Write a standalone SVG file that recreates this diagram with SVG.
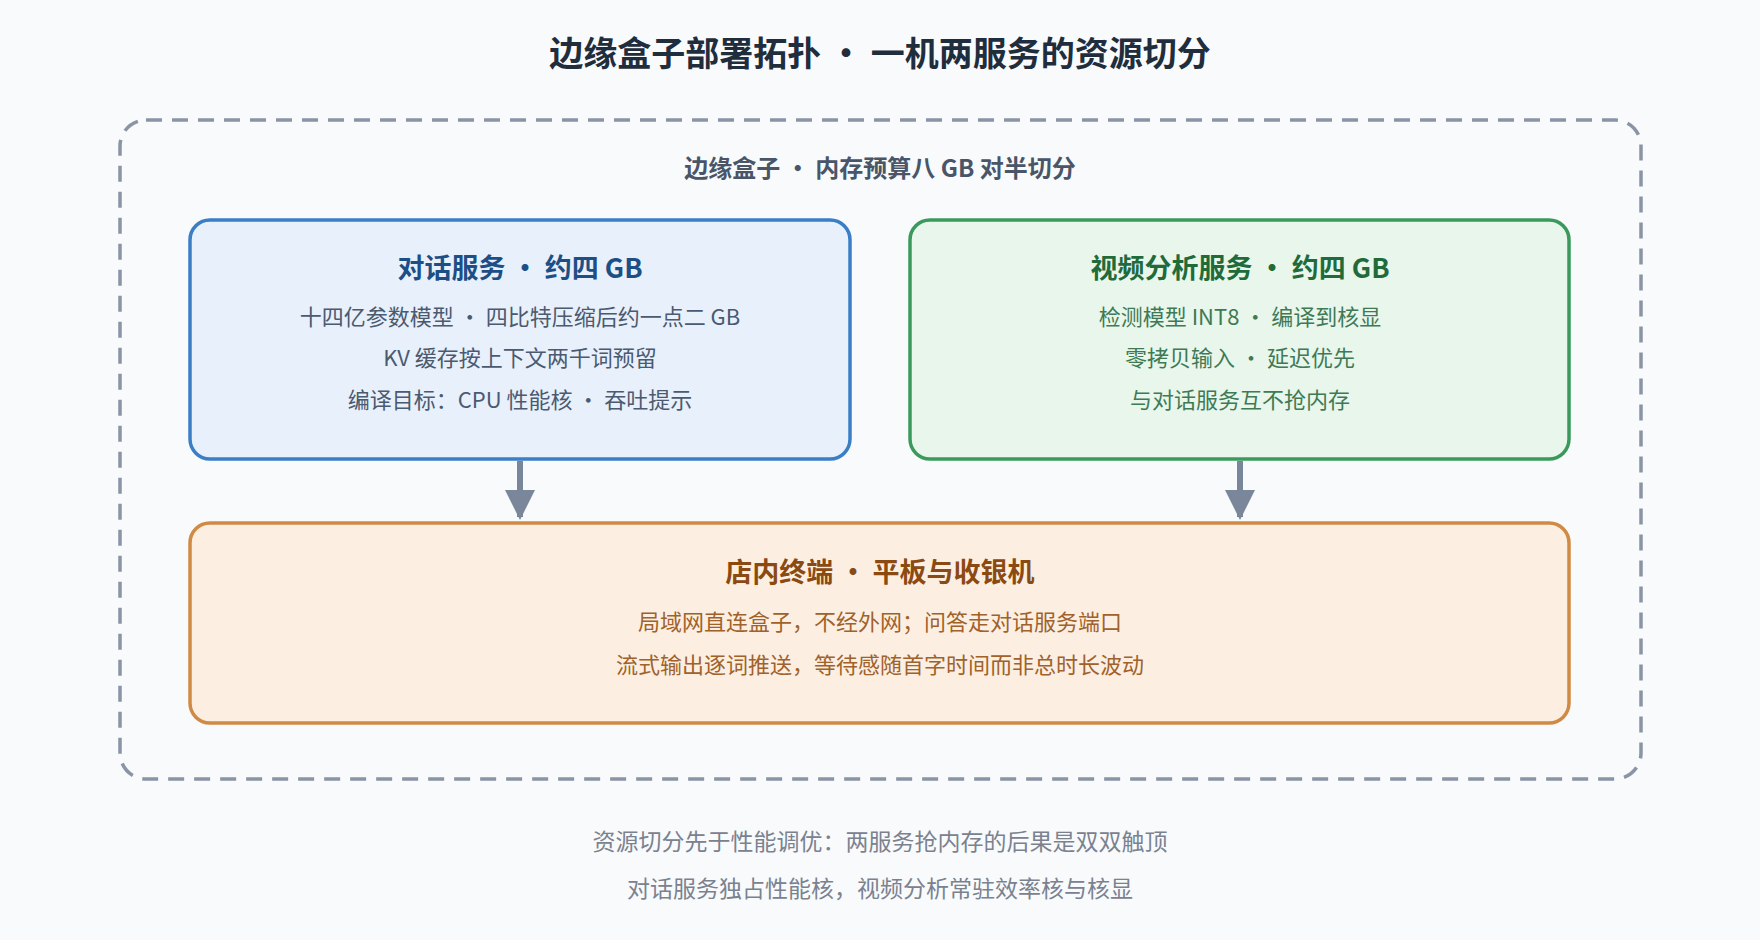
<svg xmlns="http://www.w3.org/2000/svg" width="1760" height="940" viewBox="0 0 1760 940">
<defs>
<style>
text{font-family:"Noto Sans CJK SC","Noto Sans",sans-serif;text-anchor:middle;dominant-baseline:central}
.t{font-size:34px;font-weight:700;fill:#1f2d3d}
.st{font-size:24px;font-weight:700;fill:#4a5568}
.h{font-size:27px;font-weight:700}
.l{font-size:22px}
.f{font-size:23px;fill:#7a8290}
</style>
<marker id="ah" viewBox="0 0 10 10" refX="9" refY="5" markerWidth="5" markerHeight="5" markerUnits="strokeWidth" orient="auto"><path d="M0,0L10,5L0,10z" fill="#7a8699"/></marker>
</defs>
<rect width="1760" height="940" fill="#f8fafc"/>
<text class="t" x="880" y="51">边缘盒子部署拓扑 • 一机两服务的资源切分</text>
<g id="edge-box">
<rect x="120" y="120" width="1521" height="659" rx="26" fill="none" stroke="#8a94a4" stroke-width="3.5" stroke-dasharray="16,10"/>
<text class="st" x="880" y="166">边缘盒子 • 内存预算八 GB 对半切分</text>
</g>
<g id="chat">
<rect x="190" y="220" width="660" height="239" rx="20" fill="#e8f0fb" stroke="#3a7ec6" stroke-width="3.5"/>
<text class="h" x="520" y="266" fill="#1d4f86">对话服务 • 约四 GB</text>
<g class="l" fill="#4a5a70">
<text x="520" y="315">十四亿参数模型 · 四比特压缩后约一点二 GB</text>
<text x="520" y="356">KV 缓存按上下文两千词预留</text>
<text x="520" y="398">编译目标：CPU 性能核 · 吞吐提示</text>
</g>
</g>
<g id="video">
<rect x="910" y="220" width="659" height="239" rx="20" fill="#e8f6ec" stroke="#3a9a5c" stroke-width="3.5"/>
<text class="h" x="1240" y="266" fill="#1f6b3a">视频分析服务 • 约四 GB</text>
<g class="l" fill="#3f7a55">
<text x="1240" y="315">检测模型 INT8 · 编译到核显</text>
<text x="1240" y="356">零拷贝输入 · 延迟优先</text>
<text x="1240" y="398">与对话服务互不抢内存</text>
</g>
</g>
<g id="terminal">
<rect x="190" y="523" width="1379" height="200" rx="20" fill="#fcefe2" stroke="#d08a44" stroke-width="3.5"/>
<text class="h" x="880" y="570" fill="#8a4a12">店内终端 • 平板与收银机</text>
<g class="l" fill="#a0622a">
<text x="880" y="620">局域网直连盒子，不经外网；问答走对话服务端口</text>
<text x="880" y="663">流式输出逐词推送，等待感随首字时间而非总时长波动</text>
</g>
</g>
<g id="connectors" stroke="#7a8699" stroke-width="6" fill="none">
<line x1="520" y1="461" x2="520" y2="517" marker-end="url(#ah)"/>
<line x1="1240" y1="461" x2="1240" y2="517" marker-end="url(#ah)"/>
</g>
<g id="footer">
<text class="f" x="880" y="840">资源切分先于性能调优：两服务抢内存的后果是双双触顶</text>
<text class="f" x="880" y="887">对话服务独占性能核，视频分析常驻效率核与核显</text>
</g>
</svg>
